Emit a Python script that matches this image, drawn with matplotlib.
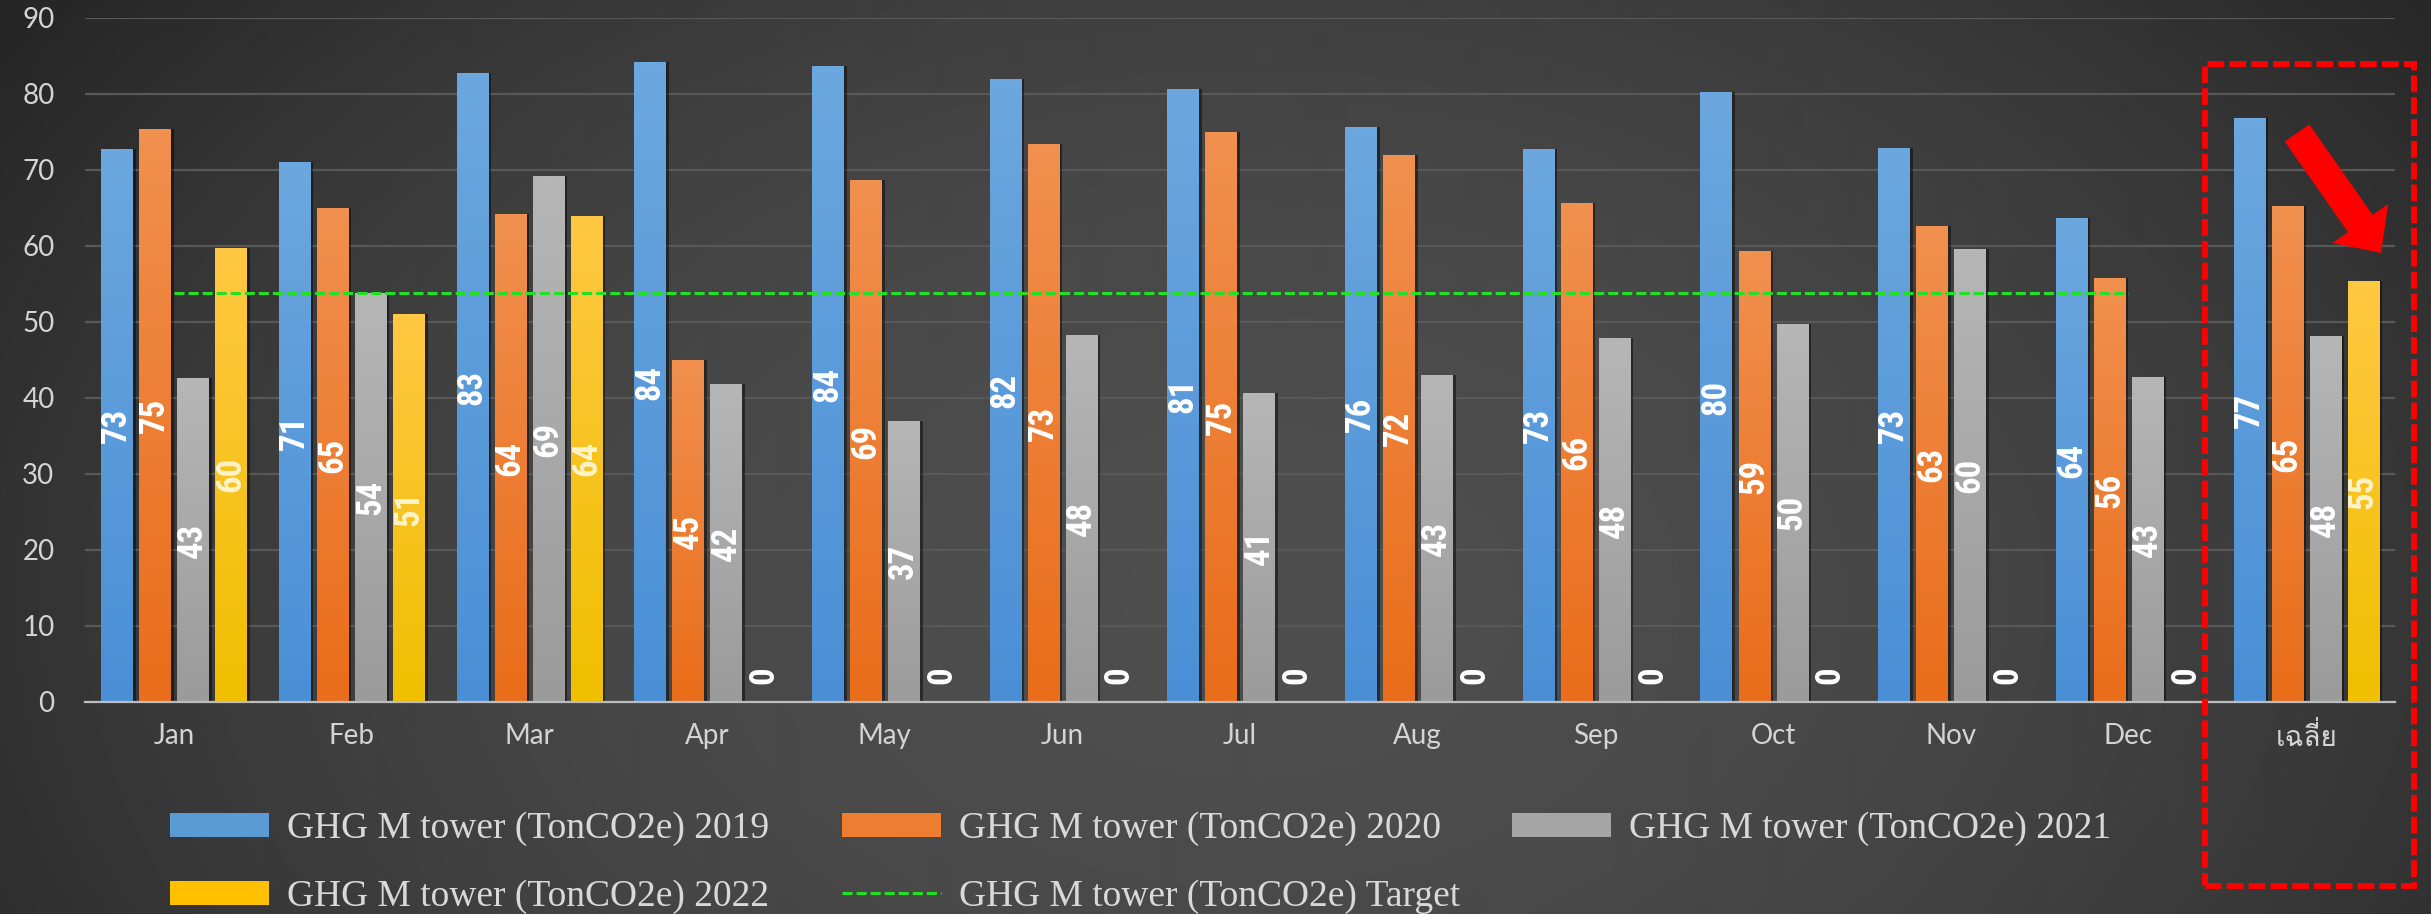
import numpy as np
import matplotlib
matplotlib.use("Agg")
import matplotlib.pyplot as plt
from matplotlib import font_manager as fm
from matplotlib.ft2font import FT2Font
from matplotlib.patches import Rectangle, Polygon, Patch
from matplotlib.lines import Line2D

# ---------------- data ----------------
categories = ["Jan", "Feb", "Mar", "Apr", "May", "Jun", "Jul", "Aug", "Sep",
              "Oct", "Nov", "Dec", "เฉลี่ย"]
ghg_2019 = [72.7, 71.0, 82.7, 84.2, 83.7, 82.0, 80.6, 75.6, 72.7, 80.2, 72.9, 63.7, 76.8]
ghg_2020 = [75.4, 65.0, 64.2, 45.0, 68.7, 73.4, 75.0, 72.0, 65.7, 59.3, 62.6, 55.8, 65.2]
ghg_2021 = [42.6, 53.8, 69.2, 41.8, 37.0, 48.3, 40.7, 43.0, 47.9, 49.8, 59.6, 42.8, 48.1]
ghg_2022 = [59.8, 51.0, 64.0, 0, 0, 0, 0, 0, 0, 0, 0, 0, 55.4]
target = [53.8] * 12 + [np.nan]
series_names = ["GHG M tower (TonCO2e) 2019", "GHG M tower (TonCO2e) 2020",
                "GHG M tower (TonCO2e) 2021", "GHG M tower (TonCO2e) 2022"]
target_name = "GHG M tower (TonCO2e) Target"

# ---------------- fonts ----------------
names = {f.name for f in fm.fontManager.ttflist}


def font_with(chars):
    for f in fm.fontManager.ttflist:
        try:
            cmap = FT2Font(f.fname).get_charmap()
        except Exception:
            continue
        if all(ord(c) in cmap for c in chars):
            return f.name
    return None


def narrow_bold():
    for nm in ["Liberation Sans Narrow", "Roboto Condensed", "Open Sans Condensed",
               "Noto Sans Condensed", "DejaVu Sans Condensed"]:
        if nm in names:
            return fm.FontProperties(family=nm, weight="bold")
    for f in fm.fontManager.ttflist:
        if "condensed" in f.fname.lower() and "bold" in f.fname.lower() \
                and "oblique" not in f.fname.lower() and "italic" not in f.fname.lower():
            return fm.FontProperties(fname=f.fname)
    return fm.FontProperties(family="Roboto" if "Roboto" in names else "DejaVu Sans",
                             weight="bold")


thai_font = font_with("เฉลี่ย") or "DejaVu Sans"
label_prop = narrow_bold()
label_prop.set_size(25)
tick_font = "Lato" if "Lato" in names else "DejaVu Sans"
legend_font = "Liberation Serif" if "Liberation Serif" in names else "DejaVu Serif"

W, H = 2431, 914
fig = plt.figure(figsize=(W / 100, H / 100), dpi=100)

# ---------------- background gradient ----------------
bg = fig.add_axes([0, 0, 1, 1], zorder=-10)
bg.axis("off")
yy, xx = np.mgrid[0:H:2, 0:W:2]
r = np.sqrt(((xx - 1250) / 1500.0) ** 2 + ((yy - 600) / 1000.0) ** 2)
c0, c1 = 78 / 255, 38 / 255
v = np.clip(c0 - (c0 - c1) * r ** 2, c1, c0)
bg.imshow(v, cmap="gray", vmin=0, vmax=1, aspect="auto", extent=[0, 1, 0, 1],
          origin="upper", interpolation="bilinear")
bg.set_xlim(0, 1)
bg.set_ylim(0, 1)

# ---------------- main axes ----------------
ax = fig.add_axes([85 / W, (H - 702) / H, 2310 / W, 684 / H])
ax.set_facecolor("none")

x = np.arange(len(categories))
bw = 0.175
step = 0.214
offsets = (np.arange(4) - 1.5) * step
series = [ghg_2019, ghg_2020, ghg_2021, ghg_2022]
grad_colors = [("#4a8fd6", "#6ca7df"), ("#e96d1a", "#f1904f"),
               ("#9b9b9b", "#b6b6b6"), ("#f0bf00", "#ffc842")]
solid = ["#5b9bd5", "#ed7d31", "#a5a5a5", "#ffc000"]
text_colors = ["white", "white", "white", "#fff3c8"]


def hex2rgb(h):
    return np.array([int(h[i:i + 2], 16) / 255 for i in (1, 3, 5)])


for i, vals in enumerate(series):
    xs = x + offsets[i]
    ax.bar(xs + 0.013, vals, bw + 0.012, color="black", alpha=0.45, zorder=2, linewidth=0)
    bars = ax.bar(xs, vals, bw, color=solid[i], zorder=3, linewidth=0)
    lo, hi = hex2rgb(grad_colors[i][0]), hex2rgb(grad_colors[i][1])
    t = np.linspace(0, 1, 64)[:, None, None]
    grad = lo * (1 - t) + hi * t
    for b, val, xc in zip(bars, vals, xs):
        if val > 0:
            im = ax.imshow(grad, extent=[b.get_x(), b.get_x() + b.get_width(), 0, val],
                           aspect="auto", origin="lower", zorder=3.5,
                           interpolation="bilinear")
            im.set_clip_path(b)
            ax.text(xc, val / 2, f"{round(val)}", rotation=90, ha="center", va="center",
                    fontproperties=label_prop, color=text_colors[i], zorder=6)
        else:
            ax.annotate(f"{round(val)}", (xc, 0), xytext=(0, 13), textcoords="offset points",
                        rotation=90, ha="center", va="bottom",
                        fontproperties=label_prop, color="white", zorder=6)

ax.plot(x, target, color="#22e022", lw=2.2, ls=(0, (3.3, 1.3)), zorder=7)

ax.set_xlim(-0.5, len(categories) - 0.5)
ax.set_ylim(0, 90)
ax.set_aspect("auto")
ax.set_yticks(np.arange(0, 91, 10))
ax.set_xticks(x)
ax.set_xticklabels(categories)
ax.yaxis.grid(True, color="#585858", lw=1.6)
ax.set_axisbelow(True)
for s in ["left", "right", "top"]:
    ax.spines[s].set_visible(False)
ax.spines["bottom"].set_color("#bdbdbd")
ax.spines["bottom"].set_linewidth(1.6)
ax.spines["bottom"].set_zorder(8)
ax.tick_params(axis="both", length=0, colors="#d4d4d4")
ax.tick_params(axis="x", pad=15, labelsize=20)
ax.tick_params(axis="y", pad=22, labelsize=20)
for lab in ax.get_xticklabels() + ax.get_yticklabels():
    lab.set_family(tick_font)
ax.get_xticklabels()[-1].set_family([thai_font, "DejaVu Sans"])

# ---------------- legend ----------------
handles = [Patch(facecolor=c, edgecolor="none") for c in solid]
handles.append(Line2D([], [], color="#22e022", lw=2.2, ls=(0, (3.3, 1.3))))
labels = series_names + [target_name]
leg_pos = [(170, 829), (842, 829), (1512, 829), (170, 897), (842, 897)]
for h, l, (px, py) in zip(handles, labels, leg_pos):
    fig.legend(handles=[h], labels=[l], loc="center left",
               bbox_to_anchor=(px / W, 1 - py / H), frameon=False,
               borderpad=0, borderaxespad=0, handlelength=2.65, handleheight=0.63,
               handletextpad=0.48,
               prop=fm.FontProperties(family=legend_font, size=27),
               labelcolor="#d9d9d9")

# ---------------- annotation box and arrow ----------------
def fpt(px, py):
    return (px / W, 1 - py / H)


x0, y0 = fpt(2205, 886)
x1, y1 = fpt(2414, 64)
fig.add_artist(Rectangle((x0, y0), x1 - x0, y1 - y0, transform=fig.transFigure,
                         fill=False, edgecolor="#ff0000", lw=4.3,
                         ls=(0, (2.8, 0.85)), joinstyle="miter", zorder=20))

T = np.array([2297.0, 133.0])
P = np.array([2381.0, 253.0])
d = (P - T) / np.linalg.norm(P - T)
n = np.array([-d[1], d[0]])
B = P - d * 36
sw, hw = 15, 34
pts = [T + n * sw, B + n * sw, B + n * hw, P, B - n * hw, B - n * sw, T - n * sw]
fig.add_artist(Polygon([fpt(*p) for p in pts], closed=True, transform=fig.transFigure,
                       facecolor="#ff0000", edgecolor="none", zorder=20))

fig.savefig("out.png", dpi=100)
